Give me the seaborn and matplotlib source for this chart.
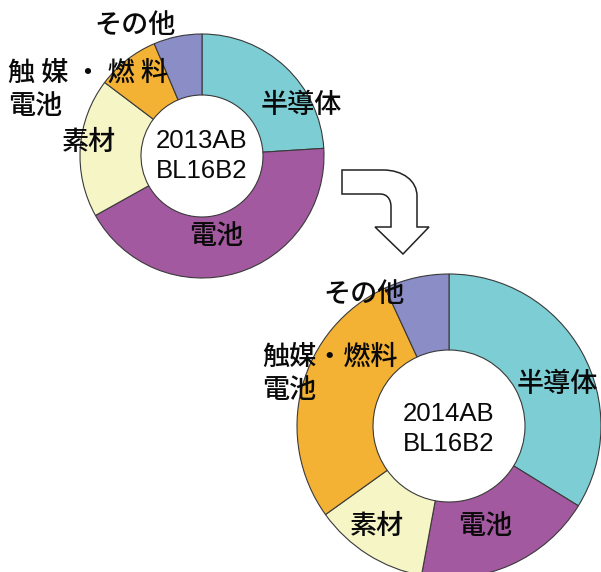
import matplotlib
matplotlib.use("Agg")
import matplotlib.pyplot as plt
from matplotlib.path import Path
from matplotlib.patches import PathPatch
import seaborn as sns

# Beamline BL16B2 usage share by field, 2013A/B and 2014A/B
categories = ["半導体", "電池", "素材", "触媒・燃料電池", "その他"]
share_2013 = [24.0, 42.9, 18.4, 8.3, 6.4]
share_2014 = [33.8, 19.1, 12.2, 28.0, 6.9]
period_2013 = "2013AB\nBL16B2"
period_2014 = "2014AB\nBL16B2"

# label texts as printed on each ring
labels_2013 = ["半導体", "電池", "素材", "触 媒 ・ 燃 料\n電池", "その他"]
labels_2014 = ["半導体", "電池", "素材", "触媒・燃料\n電池", "その他"]

sns.set_theme(style="white")
plt.rcParams["font.family"] = ["Noto Sans CJK JP", "DejaVu Sans"]

palette = sns.color_palette(["#7ccdd4", "#a3599f", "#f5f5c6", "#f4b234", "#8a8dc6"])

W, H = 601, 572
fig = plt.figure(figsize=(W / 100, H / 100), dpi=100)
fig.patch.set_facecolor("white")


def ring_axes(cx, cy, r):
    ax = fig.add_axes([(cx - r) / W, (H - cy - r) / H, 2 * r / W, 2 * r / H])
    ax.axis("off")
    return ax


def draw_ring(ax, values, labels, positions, center_text, center_y):
    ax.pie(values, colors=palette, startangle=90, counterclock=False, radius=1.0,
           wedgeprops=dict(width=0.5, edgecolor="#3a3a3a", linewidth=0.8))
    ax.set_xlim(-1, 1)
    ax.set_ylim(-1, 1)
    ax.set_aspect("equal")
    for text, (x, y, ha) in zip(labels, positions):
        ax.text(x, y, text, ha=ha, va="center", fontsize=19.5, color="#0a0a0a",
                fontweight="medium", linespacing=1.3, clip_on=False)
    ax.text(0, center_y, center_text, ha="center", va="center", fontsize=18.5,
            color="#0a0a0a", family=["Liberation Sans", "DejaVu Sans"],
            linespacing=1.36)


ax1 = ring_axes(202, 156, 122)
draw_ring(ax1, share_2013, labels_2013,
          [(0.811, 0.410, "center"), (0.115, -0.656, "center"),
           (-0.926, 0.107, "center"), (-1.59, 0.545, "left"),
           (-0.549, 1.066, "center")],
          period_2013, 0.0)

ax2 = ring_axes(449, 426, 152)
draw_ring(ax2, share_2014, labels_2014,
          [(0.980, 0.270, "right"), (0.237, -0.658, "center"),
           (-0.474, -0.664, "center"), (-1.230, 0.345, "left"),
           (-0.559, 0.868, "center")],
          period_2014, -0.02)

# bent arrow from the 2013 ring down to the 2014 ring (pixel layout, y downward)
arrow_px = [
    (342, 170), (383, 170), (403, 170), (417, 181), (417, 196),
    (417, 227), (429, 227), (403, 254), (375, 227), (391, 227),
    (391, 207), (391, 199), (387, 194), (380, 194), (342, 194), (342, 170),
]
codes = [Path.MOVETO, Path.LINETO, Path.CURVE4, Path.CURVE4, Path.CURVE4,
         Path.LINETO, Path.LINETO, Path.LINETO, Path.LINETO, Path.LINETO,
         Path.LINETO, Path.CURVE4, Path.CURVE4, Path.CURVE4, Path.LINETO,
         Path.CLOSEPOLY]
verts = [(x / W, 1 - y / H) for x, y in arrow_px]
fig.patches.append(PathPatch(Path(verts, codes), transform=fig.transFigure,
                             facecolor="white", edgecolor="#222222",
                             linewidth=1.1, joinstyle="miter"))

fig.savefig("out.png", dpi=100, facecolor="white")
